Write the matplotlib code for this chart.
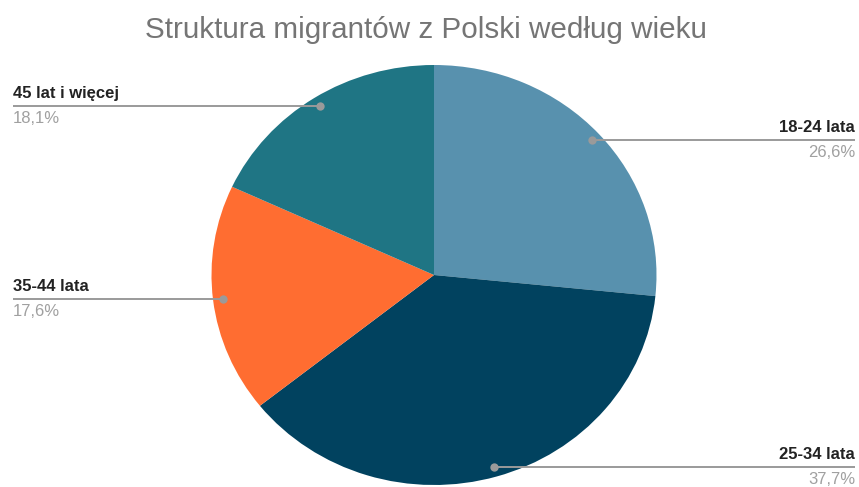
import numpy as np
import matplotlib
matplotlib.use("Agg")
import matplotlib.pyplot as plt

plt.rcParams['font.family'] = ['Liberation Sans', 'DejaVu Sans']

# dane
kategorie = ["18-24 lata", "25-34 lata", "35-44 lata", "45 lat i więcej"]
udzialy = [26.6, 37.7, 17.6, 18.1]
etykiety_proc = ["26,6%", "37,7%", "17,6%", "18,1%"]
kolory = ["#5891ae", "#01425f", "#ff6d31", "#1f7584"]

W, H = 859, 487
fig = plt.figure(figsize=(W / 100, H / 100), dpi=100)

# obszar kola (lekko eliptyczny jak w oryginale)
ax = fig.add_axes([211.5 / W, 2 / H, 445 / W, 420 / H])
wedges, _ = ax.pie(udzialy, colors=kolory, startangle=90, counterclock=False,
                   radius=1, wedgeprops=dict(linewidth=0))
ax.set_aspect('auto')
ax.set_xlim(-1, 1)
ax.set_ylim(-1, 1)

# warstwa w pikselach na opisy
over = fig.add_axes([0, 0, 1, 1])
over.set_xlim(0, W)
over.set_ylim(H, 0)
over.axis('off')

fig.canvas.draw()
to_px = over.transData.inverted()

for w, kat, proc in zip(wedges, kategorie, etykiety_proc):
    mid = np.deg2rad((w.theta1 + w.theta2) / 2)
    x, y = 0.955 * np.cos(mid), 0.955 * np.sin(mid)
    px, py = to_px.transform(ax.transData.transform((x, y)))
    if x < 0:
        x_end, ha = 13, 'left'
    else:
        x_end, ha = 855, 'right'
    over.plot([px, x_end], [py, py], color="#9a9a9a", lw=1.4,
              solid_capstyle='butt', zorder=3)
    over.plot(px, py, 'o', color="#9a9a9a", ms=6, mec='none', zorder=4)
    over.text(x_end, py - 8, kat, ha=ha, va='baseline', fontsize=12,
              fontweight='bold', color="#222222")
    over.text(x_end, py + 17, proc, ha=ha, va='baseline', fontsize=12,
              color="#a0a0a0")

over.text(426, 38, "Struktura migrantów z Polski według wieku", ha='center',
          va='baseline', fontsize=21.3, color="#757575")

fig.savefig("out.png", dpi=100, facecolor='white')
